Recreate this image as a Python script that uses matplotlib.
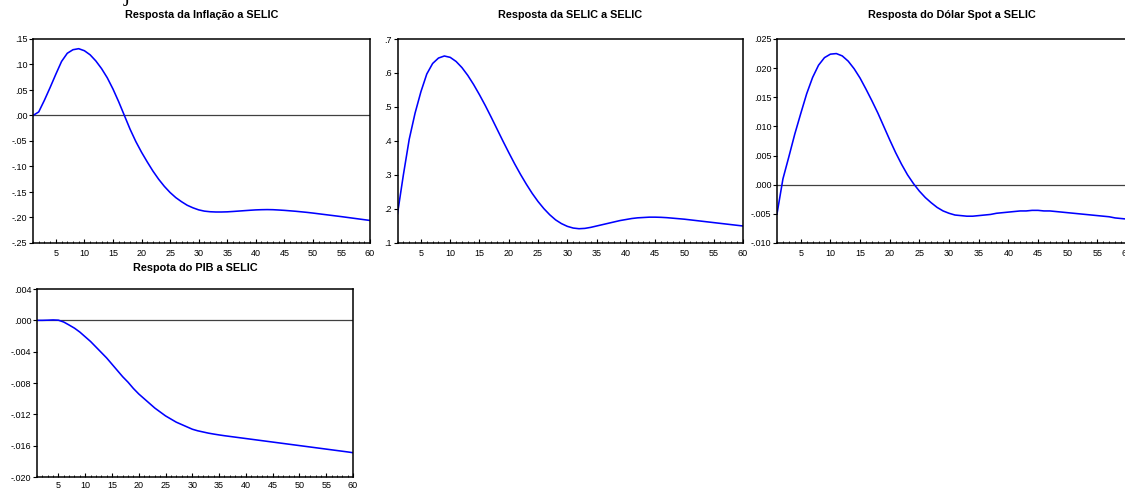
import matplotlib
matplotlib.use("Agg")
import matplotlib.pyplot as plt
from matplotlib.ticker import MultipleLocator, FixedLocator

plt.rcParams['font.family'] = ['Liberation Sans', 'DejaVu Sans']

# impulse response horizon
periods = list(range(1, 61))

# Resposta da Inflação a SELIC
inflacao = [0.000, 0.007, 0.030, 0.055, 0.081, 0.106, 0.122, 0.129, 0.131, 0.127,
            0.119, 0.107, 0.092, 0.074, 0.052, 0.027, 0.000, -0.027, -0.051, -0.072,
            -0.091, -0.109, -0.125, -0.139, -0.151, -0.161, -0.169, -0.176, -0.181, -0.185,
            -0.1875, -0.1887, -0.1892, -0.1892, -0.1889, -0.1882, -0.1874, -0.1866, -0.1858, -0.1851,
            -0.1847, -0.1845, -0.1847, -0.1853, -0.1860, -0.1869, -0.1878, -0.1889, -0.1900, -0.1913,
            -0.1927, -0.1941, -0.1955, -0.1969, -0.1983, -0.1998, -0.2013, -0.2028, -0.2043, -0.2058]

# Resposta da SELIC a SELIC
selic = [0.186, 0.300, 0.405, 0.482, 0.545, 0.597, 0.628, 0.644, 0.650, 0.646,
         0.634, 0.616, 0.593, 0.566, 0.536, 0.504, 0.470, 0.435, 0.400, 0.366,
         0.333, 0.302, 0.273, 0.246, 0.222, 0.201, 0.183, 0.168, 0.157, 0.149,
         0.144, 0.142, 0.143, 0.146, 0.150, 0.154, 0.158, 0.162, 0.166, 0.169,
         0.172, 0.174, 0.175, 0.176, 0.176, 0.1755, 0.1745, 0.173, 0.1715, 0.170,
         0.168, 0.166, 0.164, 0.162, 0.160, 0.158, 0.156, 0.154, 0.152, 0.150]

# Resposta do Dólar Spot a SELIC
dolar = [-0.0050, 0.0010, 0.0048, 0.0087, 0.0122, 0.0156, 0.0184, 0.0205, 0.0218, 0.0224,
         0.0225, 0.0221, 0.0212, 0.0199, 0.0183, 0.0164, 0.0144, 0.0123, 0.0100, 0.0077,
         0.0055, 0.0035, 0.0017, 0.0002, -0.0011, -0.0022, -0.0031, -0.0039, -0.0045, -0.0049,
         -0.0052, -0.0053, -0.0054, -0.0054, -0.0053, -0.0052, -0.0051, -0.0049, -0.0048, -0.0047,
         -0.0046, -0.0045, -0.0045, -0.0044, -0.0044, -0.0045, -0.0045, -0.0046, -0.0047, -0.0048,
         -0.0049, -0.0050, -0.0051, -0.0052, -0.0053, -0.0054, -0.0055, -0.0057, -0.0058, -0.0059]

# Respota do PIB a SELIC
pib = [0.0, 0.0, 0.00002, 0.00005, 0.00002, -0.00022, -0.0006, -0.0010, -0.0015, -0.0021,
       -0.0027, -0.0034, -0.0041, -0.0048, -0.0056, -0.0064, -0.0072, -0.0079, -0.0087, -0.0094,
       -0.0100, -0.0106, -0.0112, -0.0117, -0.0122, -0.0126, -0.0130, -0.0133, -0.0136, -0.0139,
       -0.0141, -0.01425, -0.0144, -0.01452, -0.01463, -0.01473, -0.01482, -0.01491, -0.0150, -0.01509,
       -0.01518, -0.01527, -0.01536, -0.01545, -0.01554, -0.01563, -0.01572, -0.01581, -0.0159, -0.01599,
       -0.01608, -0.01617, -0.01626, -0.01635, -0.01644, -0.01653, -0.01662, -0.01671, -0.0168, -0.0169]

titles = ['Resposta da Inflação a SELIC', 'Resposta da SELIC a SELIC',
          'Resposta do Dólar Spot a SELIC', 'Respota do PIB a SELIC']

yticks_inf = [-0.25, -0.20, -0.15, -0.10, -0.05, 0.00, 0.05, 0.10, 0.15]
ylabels_inf = ['-.25', '-.20', '-.15', '-.10', '-.05', '.00', '.05', '.10', '.15']
yticks_sel = [0.1, 0.2, 0.3, 0.4, 0.5, 0.6, 0.7]
ylabels_sel = ['.1', '.2', '.3', '.4', '.5', '.6', '.7']
yticks_dol = [-0.010, -0.005, 0.000, 0.005, 0.010, 0.015, 0.020, 0.025]
ylabels_dol = ['-.010', '-.005', '.000', '.005', '.010', '.015', '.020', '.025']
yticks_pib = [-0.020, -0.016, -0.012, -0.008, -0.004, 0.000, 0.004]
ylabels_pib = ['-.020', '-.016', '-.012', '-.008', '-.004', '.000', '.004']

W, H = 1125, 490
fig = plt.figure(figsize=(W / 100, H / 100), dpi=100)


def px_axes(left, top, right, bottom):
    return fig.add_axes([left / W, 1 - bottom / H, (right - left) / W, (bottom - top) / H])


panels = [
    # (pixel box, series, yticks, ylabels, zero line, title y, x label pad)
    ((33, 39, 370, 243), inflacao, yticks_inf, ylabels_inf, True, 15.5, 4.0),
    ((397.5, 39, 743, 243), selic, yticks_sel, ylabels_sel, False, 15.5, 4.0),
    ((777, 39, 1127, 243), dolar, yticks_dol, ylabels_dol, True, 15.5, 4.0),
    ((37, 289, 353, 477), pib, yticks_pib, ylabels_pib, True, 268, 2.6),
]

for (box, serie, yt, yl, zero, ty, xpad), title in zip(panels, titles):
    ax = px_axes(*box)
    if zero:
        ax.axhline(0, color='#404040', lw=0.9, zorder=1)
    ax.plot(periods, serie, color='#0000ff', lw=1.15, zorder=2)
    ax.set_xlim(1, 60)
    ax.set_ylim(yt[0], yt[-1])
    ax.xaxis.set_major_locator(FixedLocator(list(range(5, 61, 5))))
    ax.xaxis.set_minor_locator(MultipleLocator(1))
    ax.set_yticks(yt)
    ax.set_yticklabels(yl)
    ax.tick_params(axis='x', which='major', direction='in', length=3.0, width=0.8,
                   labelsize=6.5, pad=xpad)
    ax.tick_params(axis='x', which='minor', direction='in', length=1.8, width=0.6)
    ax.tick_params(axis='y', which='major', direction='out', length=3.0, width=0.8,
                   labelsize=6.5, pad=1)
    for s in ax.spines.values():
        s.set_linewidth(1.1)
    cx = (box[0] + box[2]) / 2
    fig.text(cx / W, 1 - ty / H, title, ha='center', va='center',
             fontsize=7.8, fontweight='bold')

# tail of a heading that runs off the top edge
fig.text(124 / W, 1 - 1 / H, 'j', family='Liberation Serif', fontsize=16, va='baseline')

fig.savefig('out.png', dpi=100)
